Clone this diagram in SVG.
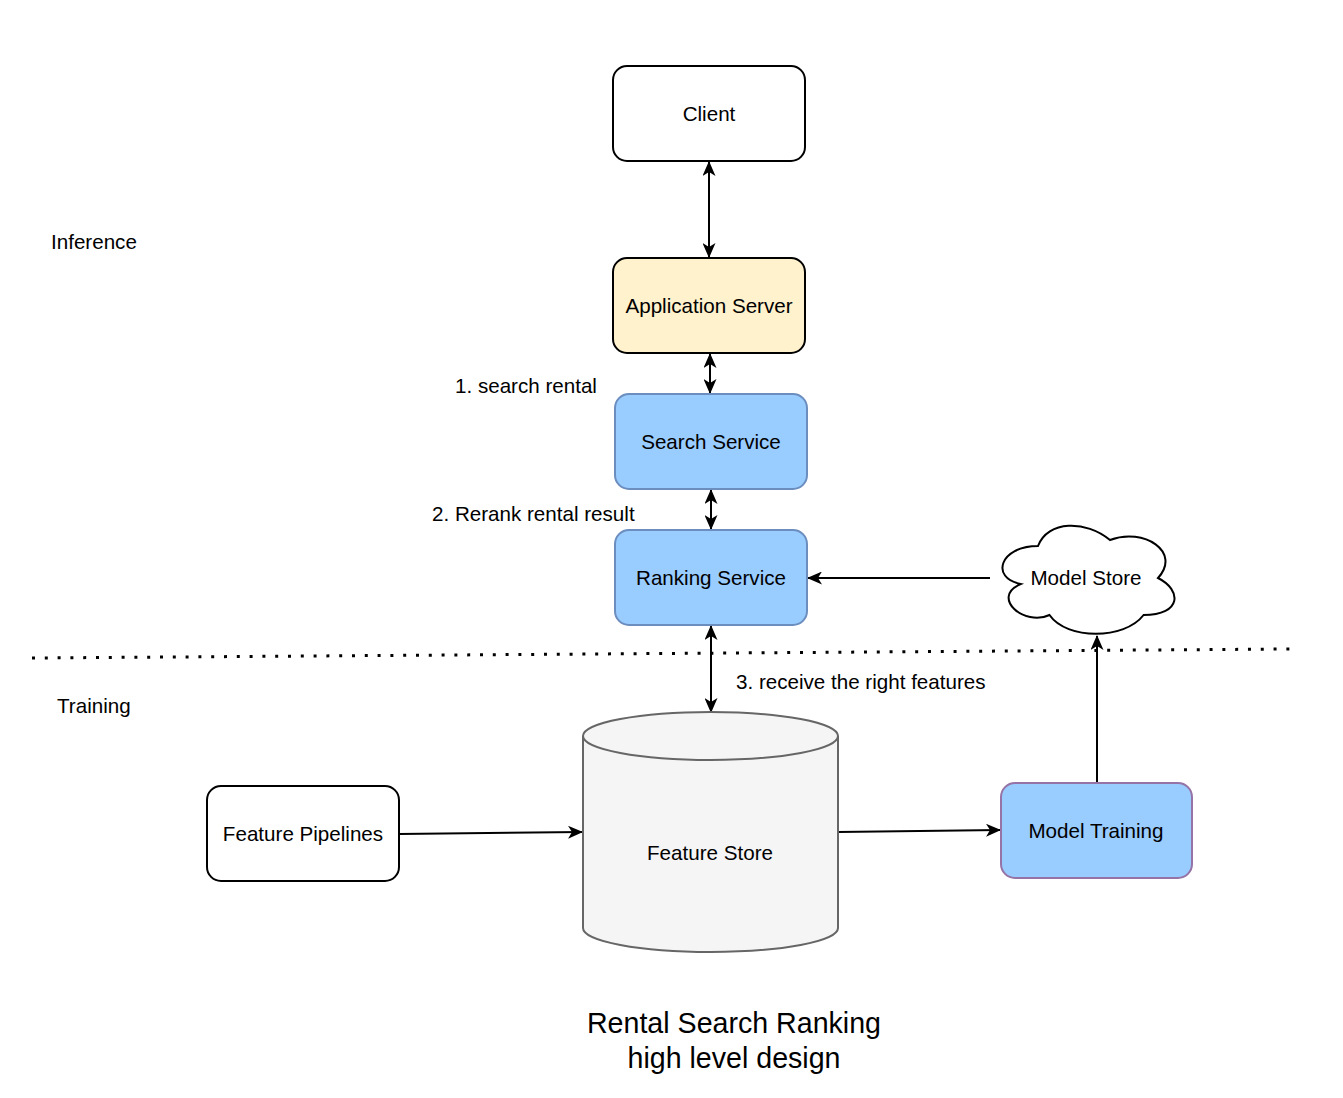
<svg xmlns="http://www.w3.org/2000/svg" width="1343" height="1098" viewBox="0 0 1343 1098">
<style>
text{font-family:"Liberation Sans",Arial,sans-serif;font-size:20.6px;fill:#000}
.c{text-anchor:middle}
.box{stroke-width:2}
.edge{fill:none;stroke:#000;stroke-width:2}
</style>
<defs>
<marker id="ah" viewBox="0 0 15 13" refX="14" refY="6.5" markerWidth="15" markerHeight="13" markerUnits="userSpaceOnUse" orient="auto-start-reverse">
<path d="M0,0 L15,6.5 L0,13 L4,6.5 Z" fill="#000"/>
</marker>
</defs>
<rect width="1343" height="1098" fill="#fff"/>
<line x1="32" y1="658" x2="1290" y2="649" stroke="#000" stroke-width="3" stroke-dasharray="3 9.8"/>
<g id="connectors">
<line class="edge" x1="709" y1="162" x2="709" y2="257" marker-start="url(#ah)" marker-end="url(#ah)"/>
<line class="edge" x1="710" y1="354" x2="710" y2="393" marker-start="url(#ah)" marker-end="url(#ah)"/>
<line class="edge" x1="711" y1="490" x2="711" y2="529" marker-start="url(#ah)" marker-end="url(#ah)"/>
<line class="edge" x1="711" y1="626" x2="711" y2="712" marker-start="url(#ah)" marker-end="url(#ah)"/>
<line class="edge" x1="990" y1="578" x2="808" y2="578" marker-end="url(#ah)"/>
<line class="edge" x1="399" y1="834" x2="582" y2="832" marker-end="url(#ah)"/>
<line class="edge" x1="838" y1="832" x2="1000" y2="830" marker-end="url(#ah)"/>
<line class="edge" x1="1097" y1="782" x2="1097" y2="636" marker-end="url(#ah)"/>
</g>
<g id="client">
<rect class="box" x="613" y="66" width="192" height="95" rx="14" fill="#fff" stroke="#000"/>
<text class="c" x="709" y="120.5">Client</text>
</g>
<g id="app-server">
<rect class="box" x="613" y="258" width="192" height="95" rx="14" fill="#fff2cc" stroke="#000"/>
<text class="c" x="709" y="312.5">Application Server</text>
</g>
<g id="search-service">
<rect class="box" x="615" y="394" width="192" height="95" rx="14" fill="#99ccff" stroke="#6c8ebf"/>
<text class="c" x="711" y="448.5">Search Service</text>
</g>
<g id="ranking-service">
<rect class="box" x="615" y="530" width="192" height="95" rx="14" fill="#99ccff" stroke="#6c8ebf"/>
<text class="c" x="711" y="584.5">Ranking Service</text>
</g>
<g id="model-store">
<path class="box" d="M1038,546 C999.6,546 990,578 1020.7,584 C990,597.2 1024.6,627 1049.5,615 C1066.8,640 1124.4,640 1143.6,615 C1182,615 1182,590 1158,578 C1182,552 1143.6,527 1110,540 C1086,520 1047.6,520 1038,546 Z" fill="#fff" stroke="#000"/>
<text class="c" x="1086" y="584.5">Model Store</text>
</g>
<g id="feature-store">
<path d="M583,736 A127.5,24 0 0 1 838,736 L838,928 A127.5,24 0 0 1 583,928 Z" fill="#f5f5f5" stroke="#666666" stroke-width="2"/>
<path d="M583,736 A127.5,24 0 0 0 838,736" fill="none" stroke="#666666" stroke-width="2"/>
<text class="c" x="710" y="859.5">Feature Store</text>
</g>
<g id="feature-pipelines">
<rect class="box" x="207" y="786" width="192" height="95" rx="14" fill="#fff" stroke="#000"/>
<text class="c" x="303" y="840.5">Feature Pipelines</text>
</g>
<g id="model-training">
<rect class="box" x="1001" y="783" width="191" height="95" rx="14" fill="#99ccff" stroke="#9673a6"/>
<text class="c" x="1096" y="837.5">Model Training</text>
</g>
<g id="labels">
<text x="51" y="249">Inference</text>
<text x="57" y="713">Training</text>
<text x="455" y="393">1. search rental</text>
<text x="432" y="521">2. Rerank rental result</text>
<text x="736" y="689">3. receive the right features</text>
<text class="c" x="734" y="1033" style="font-size:28.6px">Rental Search Ranking</text>
<text class="c" x="734" y="1068" style="font-size:28.6px">high level design</text>
</g>
</svg>
